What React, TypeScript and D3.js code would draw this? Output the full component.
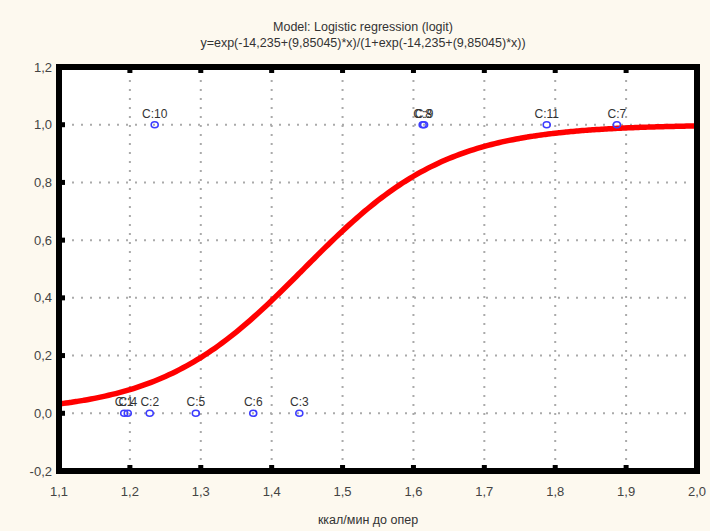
import * as d3 from "d3";

// model coefficients shown in the title
const intercept = -14.235;
const slope = 9.85045;

// observed cases (x = ккал/мин до опер, y = outcome)
const caseNames = ["C:1", "C:2", "C:3", "C:4", "C:5", "C:6", "C:7", "C:8", "C:9", "C:10", "C:11"];
const caseX = [1.192, 1.228, 1.439, 1.197, 1.293, 1.374, 1.887, 1.613, 1.615, 1.235, 1.788];
const caseY = [0, 0, 0, 0, 0, 0, 1, 1, 1, 1, 1];

const xTicks = [1.1, 1.2, 1.3, 1.4, 1.5, 1.6, 1.7, 1.8, 1.9, 2.0];
const yTicks = [-0.2, 0, 0.2, 0.4, 0.6, 0.8, 1.0, 1.2];

const W = 710;
const H = 531;
const left = 59;
const right = 697;
const top = 67;
const bottom = 471;

const fmt = (v: number) => v.toFixed(1).replace(".", ",");
const logit = (x: number) => {
  const e = Math.exp(intercept + slope * x);
  return e / (1 + e);
};

export default function App() {
  const x = d3.scaleLinear().domain([1.1, 2.0]).range([left, right]);
  const y = d3.scaleLinear().domain([-0.2, 1.2]).range([bottom, top]);

  const curveXs = d3.range(1.1, 2.0001, 0.005);
  const line = d3
    .line<number>()
    .x((d) => x(d))
    .y((d) => y(logit(d)))
    .curve(d3.curveMonotoneX);

  const innerX = xTicks.slice(1, -1);
  const innerY = yTicks.slice(1, -1);
  const font = "'Liberation Sans', Arial, sans-serif";

  return (
    <svg
      width={W}
      height={H}
      style={{ position: "absolute", left: 0, top: 0, background: "#fdf9ef" }}
    >
      <defs>
        <clipPath id="plot">
          <rect x={left} y={top} width={right - left} height={bottom - top} />
        </clipPath>
      </defs>

      <text x={363} y={31} textAnchor="middle" fontFamily={font} fontSize={12.5} fill="#333">
        Model: Logistic regression (logit)
      </text>
      <text x={363} y={47} textAnchor="middle" fontFamily={font} fontSize={12.5} fill="#333">
        y=exp(-14,235+(9,85045)*x)/(1+exp(-14,235+(9,85045)*x))
      </text>

      <rect x={left} y={top} width={right - left} height={bottom - top} fill="#fff" />

      {/* dotted grid */}
      <g stroke="#aaa" strokeWidth={2} strokeDasharray="2,7">
        {innerX.map((t) => (
          <line key={"gx" + t} x1={x(t)} x2={x(t)} y1={top + 4} y2={bottom - 4} />
        ))}
        {innerY.map((t) => (
          <line key={"gy" + t} x1={left + 4} x2={right - 4} y1={y(t)} y2={y(t)} />
        ))}
      </g>

      {/* fitted curve */}
      <path
        d={line(curveXs) ?? ""}
        fill="none"
        stroke="#ff0000"
        strokeWidth={5.5}
        clipPath="url(#plot)"
      />

      {/* cases */}
      {caseNames.map((n, i) => (
        <g key={n}>
          <ellipse
            cx={x(caseX[i])}
            cy={y(caseY[i])}
            rx={3.5}
            ry={3}
            fill="none"
            stroke="#3c3cff"
            strokeWidth={1.6}
          />
          <text
            x={x(caseX[i])}
            y={y(caseY[i]) - 7}
            textAnchor="middle"
            fontFamily={font}
            fontSize={12}
            fill="#333"
          >
            {n}
          </text>
        </g>
      ))}

      {/* frame */}
      <rect
        x={left}
        y={top}
        width={right - left}
        height={bottom - top}
        fill="none"
        stroke="#000"
        strokeWidth={6}
      />
      <g fill="#000">
        {innerY.map((t) => (
          <rect key={"ty" + t} x={left} y={y(t) - 2.5} width={6} height={5} />
        ))}
        {innerX.map((t) => (
          <g key={"tx" + t}>
            <rect x={x(t) - 2.5} y={bottom - 6} width={5} height={6} />
            <rect x={x(t) - 2.5} y={top} width={5} height={6} />
          </g>
        ))}
      </g>

      {/* axis labels */}
      {yTicks.map((t) => (
        <text
          key={"ly" + t}
          x={left - 7}
          y={y(t) + 4.5}
          textAnchor="end"
          fontFamily={font}
          fontSize={13}
          fill="#444"
        >
          {fmt(t)}
        </text>
      ))}
      {xTicks.map((t) => (
        <text
          key={"lx" + t}
          x={x(t)}
          y={496}
          textAnchor="middle"
          fontFamily={font}
          fontSize={13}
          fill="#444"
        >
          {fmt(t)}
        </text>
      ))}
      <text x={368} y={524} textAnchor="middle" fontFamily={font} fontSize={12.5} fill="#333">
        ккал/мин до опер
      </text>
    </svg>
  );
}
